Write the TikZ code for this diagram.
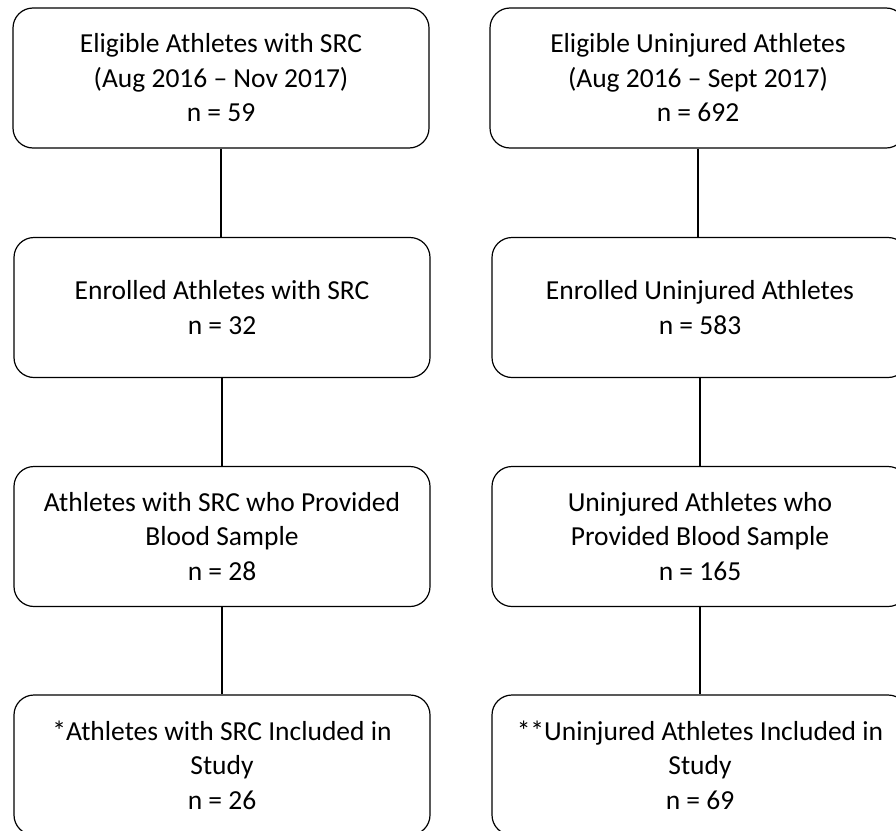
\documentclass[tikz,border=0pt]{standalone}
\usepackage{fontspec}
\setmainfont{Carlito}
\begin{document}
\begin{tikzpicture}[x=1pt,y=-1pt,
    flowbox/.style={draw,rounded corners=20pt,line width=1.2pt,minimum width=416pt,
        minimum height=140pt,align=center,font=\fontsize{27.5}{34.5}\selectfont},
    link/.style={line width=2.8pt}]
    \useasboundingbox (0,0) rectangle (896,830);
    % SRC column
    \node[flowbox] (src1) at (221,78) {Eligible Athletes with SRC\\(Aug 2016 -- Nov 2017)\\n = 59};
    \node[flowbox] (src2) at (222,307.5) {Enrolled Athletes with SRC\\n = 32};
    \node[flowbox] (src3) at (222,536.5) {Athletes with SRC who Provided\\Blood Sample\\n = 28};
    \node[flowbox] (src4) at (222,765) {*Athletes with SRC Included in\\Study\\n = 26};
    % uninjured column
    \node[flowbox] (uni1) at (698,78) {Eligible Uninjured Athletes\\(Aug 2016 -- Sept 2017)\\n = 692};
    \node[flowbox] (uni2) at (700,307.5) {Enrolled Uninjured Athletes\\n = 583};
    \node[flowbox] (uni3) at (700,536.5) {Uninjured Athletes who\\Provided Blood Sample\\n = 165};
    \node[flowbox] (uni4) at (700,765) {**Uninjured Athletes Included in\\Study\\n = 69};
    \draw[link] (src1) -- (src1 |- src2.north);
    \draw[link] (src2) -- (src2 |- src3.north);
    \draw[link] (src3) -- (src3 |- src4.north);
    \draw[link] (uni1) -- (uni1 |- uni2.north);
    \draw[link] (uni2) -- (uni2 |- uni3.north);
    \draw[link] (uni3) -- (uni3 |- uni4.north);
\end{tikzpicture}
\end{document}
